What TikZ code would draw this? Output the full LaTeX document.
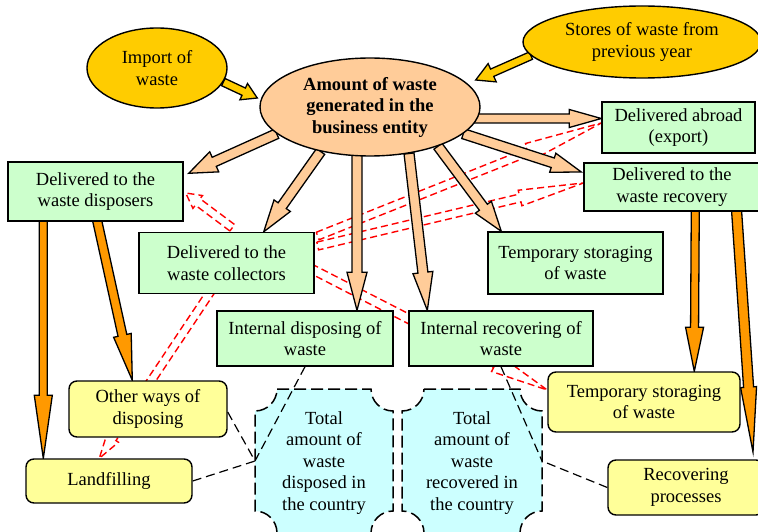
\documentclass[tikz,border=0pt]{standalone}
\usepackage{fontspec}
\setmainfont{Liberation Serif}
\usetikzlibrary{calc,shapes.geometric}
\pgfdeclarelayer{bottom}
\pgfdeclarelayer{redl}
\pgfdeclarelayer{arrl}
\pgfsetlayers{bottom,redl,arrl,main}
\definecolor{cgold}{HTML}{FFCC00}
\definecolor{cpeach}{HTML}{FFCC99}
\definecolor{cgreen}{HTML}{CCFFCC}
\definecolor{cyel}{HTML}{FFFF99}
\definecolor{ccyan}{HTML}{CCFFFF}
\definecolor{corange}{HTML}{FF9900}
% block arrow: style, from, to, shaft half width, head half width, head length
\newcommand\blockarr[6]{%
  \path (#2) coordinate (baa) (#3) coordinate (bab);
  \coordinate (bah) at ($(bab)!#6!(baa)$);
  \draw[#1] ($(baa)!#4!90:(bab)$) -- ($(bah)!#4!-90:(baa)$) -- ($(bah)!#5!-90:(baa)$)
    -- (bab) -- ($(bah)!#5!90:(baa)$) -- ($(bah)!#4!90:(baa)$) -- ($(baa)!#4!-90:(bab)$) -- cycle;}
\begin{document}
\begin{tikzpicture}[x=1pt,y=-1pt,
  txt/.style={font=\fontsize{18.5}{21.5}\selectfont, align=center, inner sep=0pt},
  gbox/.style={txt, draw, fill=cgreen, line width=1.4pt},
  ybox/.style={txt, draw, fill=cyel, line width=1.4pt, rounded corners=8pt},
  oval/.style={txt, ellipse, draw, line width=1.4pt},
  pa/.style={draw, fill=cpeach, line width=1.3pt, line join=miter},
  ga/.style={draw, fill=cgold, line width=1.3pt, line join=miter},
  oa/.style={draw, fill=corange, line width=1.3pt, line join=miter},
  ra/.style={draw=red, dash pattern=on 7pt off 4pt, line width=1.4pt},
  bd/.style={draw, dash pattern=on 9pt off 5pt, line width=1.2pt},
  plq/.style={draw, fill=ccyan, dash pattern=on 12pt off 5pt, line width=1.5pt}]
\useasboundingbox (0,0) rectangle (758,532);
% ---- nodes
\node[oval, fill=cgold, minimum width=140pt, minimum height=80pt] (imp) at (157,68) {Import of\\waste};
\node[oval, fill=cgold, minimum width=238pt, minimum height=72pt] (stores) at (642,42) {Stores of waste from\\previous year};
\node[oval, fill=cpeach, minimum width=220pt, minimum height=98pt, font=\bfseries\fontsize{18.5}{21.5}\selectfont] (gen) at (370,107) {Amount of waste\\generated in the\\business entity};
\node[gbox, minimum width=175pt, minimum height=59pt] (disp) at (95.5,191.5) {Delivered to the\\waste disposers};
\node[gbox, minimum width=175pt, minimum height=61pt] (coll) at (226.5,263) {Delivered to the\\waste collectors};
\node[gbox, minimum width=153pt, minimum height=51pt] (expo) at (678.5,127.5) {Delivered abroad\\(export)};
\node[gbox, minimum width=176pt, minimum height=48pt] (reco) at (672,187) {Delivered to the\\waste recovery};
\node[gbox, minimum width=175pt, minimum height=62pt] (tmpg) at (575.5,263) {Temporary storaging\\of waste};
\node[gbox, minimum width=176pt, minimum height=55pt] (idis) at (305,338.5) {Internal disposing of\\waste};
\node[gbox, minimum width=184pt, minimum height=55pt] (irec) at (501,338.5) {Internal recovering of\\waste};
\node[ybox, minimum width=158pt, minimum height=56pt] (oth) at (148,409) {Other ways of\\disposing};
\node[ybox, minimum width=166pt, minimum height=44pt] (land) at (109,481) {Landfilling};
\node[ybox, minimum width=192pt, minimum height=60pt] (tmpy) at (644,402) {Temporary storaging\\of waste};
\node[ybox, minimum width=156pt, minimum height=55pt] (recp) at (686,487.5) {Recovering\\processes};
\node[txt] (tdis) at (324,463) {Total\\amount of\\waste\\disposed in\\the country};
\node[txt] (trec) at (472,463) {Total\\amount of\\waste\\recovered in\\the country};
\coordinate (Ld) at (255,461);
\coordinate (Rd) at (542,461);
\coordinate (rtip) at (753,452);
% ---- cyan plaques
\begin{pgfonlayer}{bottom}
\fill[white] (0,0) rectangle (758,532);
\path[plq] (277,389) -- (371,389) arc[start angle=180,end angle=270,radius=22pt]
  -- (393,511) arc[start angle=90,end angle=180,radius=22pt]
  -- (277,533) arc[start angle=0,end angle=90,radius=22pt]
  -- (255,411) arc[start angle=-90,end angle=0,radius=22pt] -- cycle;
\path[plq] (424,389) -- (520,389) arc[start angle=180,end angle=270,radius=22pt]
  -- (542,511) arc[start angle=90,end angle=180,radius=22pt]
  -- (424,533) arc[start angle=0,end angle=90,radius=22pt]
  -- (402,411) arc[start angle=-90,end angle=0,radius=22pt] -- cycle;
\end{pgfonlayer}
% ---- red dashed hollow arrows
\begin{pgfonlayer}{redl}
\blockarr{ra}{$(coll.north west)+(94,-4)$}{$(disp.east)+(2,1.5)$}{4pt}{8pt}{15pt}
\blockarr{ra}{$(coll.east)+(3,-27)$}{$(expo.west)+(0,-4.5)$}{4pt}{9pt}{78pt}
\blockarr{ra}{$(coll.east)+(3,-17)$}{$(reco.west)+(0,-4)$}{4pt}{8pt}{65pt}
\blockarr{ra}{$(coll.east)+(-5,5)$}{$(tmpy.west)+(0,-12)$}{4.5pt}{9pt}{58pt}
\blockarr{ra}{$(coll.south west)+(74,-5)$}{$(land.north west)+(74,0)$}{4pt}{7pt}{24pt}
\end{pgfonlayer}
% ---- solid block arrows
\begin{pgfonlayer}{arrl}
\blockarr{ga}{imp.348}{$(gen.west)+(-2,-9)$}{4pt}{9pt}{15pt}
\blockarr{ga}{stores.187}{$(gen.east)+(-5,-27)$}{4pt}{10pt}{18pt}
\blockarr{pa}{gen.196}{$(disp.north east)+(5,12)$}{5pt}{11pt}{28pt}
\blockarr{pa}{gen.222}{$(coll.north east)+(-51,0)$}{5pt}{10pt}{32pt}
\coordinate (t3) at ($(idis.north)+(52,0)$);
\blockarr{pa}{$(t3 |- gen.south)+(0,-5)$}{t3}{5pt}{10pt}{38pt}
\blockarr{pa}{gen.310}{$(irec.north west)+(19,0)$}{5pt}{10pt}{38pt}
\blockarr{pa}{gen.330}{$(tmpg.north west)+(14,0)$}{5pt}{10pt}{30pt}
\blockarr{pa}{gen.344}{$(reco.west)+(-2,-15)$}{5pt}{10pt}{30pt}
\coordinate (t7) at ($(expo.west)+(0,-9)$);
\blockarr{pa}{$(t7 -| gen.east)+(-10,0)$}{t7}{4.5pt}{9pt}{32pt}
\blockarr{oa}{$(disp.south west)+(36,-5)$}{$(land.north west)+(18,0)$}{4pt}{9pt}{63pt}
\blockarr{oa}{$(disp.south west)+(89,-5)$}{$(oth.north west)+(64,0)$}{4.5pt}{9pt}{46pt}
\blockarr{oa}{$(reco.south west)+(112,-5)$}{$(tmpy.north west)+(147,0)$}{4pt}{9pt}{44pt}
\blockarr{oa}{$(reco.south west)+(153,-5)$}{rtip}{5pt}{8pt}{65pt}
\end{pgfonlayer}
% ---- black dashed connectors
\draw[bd] (idis.south) -- (Ld);
\draw[bd] ($(oth.east)+(0,3)$) -- (Ld);
\draw[bd] (land.east) -- (Ld);
\draw[bd] (irec.south) -- (Rd);
\draw[bd] (recp.west) -- (Rd);
\end{tikzpicture}
\end{document}
